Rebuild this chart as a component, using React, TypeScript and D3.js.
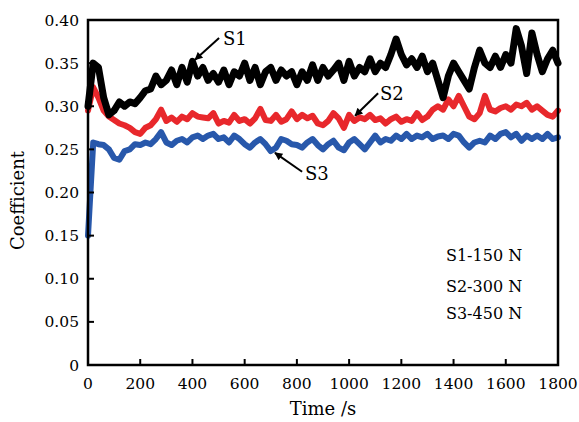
import React from 'react';
import * as d3 from 'd3';

// sampling times (s), one reading every 20 s
const times: number[] = d3.range(0, 1801, 20);

// S1 - 150 N
const s1: number[] = [
  0.300, 0.350, 0.345, 0.310, 0.290, 0.295, 0.305, 0.300, 0.305, 0.303,
  0.310, 0.318, 0.320, 0.335, 0.325, 0.330, 0.342, 0.325, 0.345, 0.328,
  0.352, 0.335, 0.345, 0.330, 0.338, 0.328, 0.342, 0.325, 0.340, 0.335,
  0.350, 0.330, 0.345, 0.325, 0.340, 0.345, 0.330, 0.342, 0.335, 0.340,
  0.325, 0.340, 0.330, 0.348, 0.330, 0.345, 0.335, 0.342, 0.350, 0.330,
  0.352, 0.335, 0.345, 0.340, 0.355, 0.340, 0.350, 0.345, 0.360, 0.378,
  0.360, 0.348, 0.355, 0.345, 0.358, 0.340, 0.350, 0.330, 0.310, 0.335,
  0.350, 0.340, 0.330, 0.320, 0.345, 0.365, 0.350, 0.345, 0.358, 0.345,
  0.360, 0.350, 0.390, 0.370, 0.338, 0.385, 0.360, 0.340, 0.355, 0.365,
  0.350,
];

// S2 - 300 N
const s2: number[] = [
  0.295, 0.322, 0.310, 0.295, 0.288, 0.284, 0.280, 0.278, 0.275, 0.270,
  0.268, 0.275, 0.278, 0.285, 0.296, 0.283, 0.287, 0.282, 0.288, 0.285,
  0.292, 0.288, 0.287, 0.286, 0.292, 0.280, 0.283, 0.281, 0.290, 0.283,
  0.285, 0.280, 0.286, 0.297, 0.284, 0.283, 0.290, 0.282, 0.285, 0.294,
  0.285, 0.290, 0.286, 0.289, 0.280, 0.278, 0.283, 0.292, 0.286, 0.275,
  0.290, 0.283, 0.287, 0.285, 0.290, 0.284, 0.286, 0.280, 0.285, 0.288,
  0.282, 0.285, 0.283, 0.292, 0.284, 0.288, 0.296, 0.300, 0.296, 0.308,
  0.300, 0.312, 0.300, 0.288, 0.285, 0.292, 0.312, 0.296, 0.294, 0.298,
  0.300, 0.296, 0.302, 0.300, 0.304, 0.296, 0.300, 0.295, 0.290, 0.288,
  0.295,
];

// S3 - 450 N
const s3: number[] = [
  0.150, 0.258, 0.256, 0.255, 0.250, 0.240, 0.238, 0.248, 0.250, 0.256,
  0.255, 0.258, 0.256, 0.262, 0.270, 0.258, 0.255, 0.260, 0.262, 0.258,
  0.264, 0.266, 0.262, 0.266, 0.268, 0.262, 0.264, 0.258, 0.266, 0.262,
  0.256, 0.252, 0.258, 0.262, 0.256, 0.248, 0.252, 0.262, 0.260, 0.256,
  0.255, 0.252, 0.258, 0.262, 0.255, 0.250, 0.256, 0.260, 0.252, 0.249,
  0.258, 0.262, 0.256, 0.250, 0.258, 0.266, 0.258, 0.262, 0.260, 0.266,
  0.262, 0.268, 0.262, 0.266, 0.264, 0.268, 0.262, 0.265, 0.266, 0.262,
  0.268, 0.266, 0.258, 0.252, 0.258, 0.260, 0.258, 0.266, 0.262, 0.268,
  0.270, 0.264, 0.268, 0.260, 0.266, 0.262, 0.266, 0.262, 0.268, 0.262,
  0.264,
];

const xTicks = [0, 200, 400, 600, 800, 1000, 1200, 1400, 1600, 1800];
const yTicks = [0, 0.05, 0.1, 0.15, 0.2, 0.25, 0.3, 0.35, 0.4];
const legendLines = ['S1-150 N', 'S2-300 N', 'S3-450 N'];

const width = 579;
const height = 422;
const margin = { top: 20, right: 21, bottom: 57, left: 88 };
const font = "'DejaVu Serif', 'Liberation Serif', serif";

const App = () => {
  const x = d3.scaleLinear().domain([0, 1800]).range([margin.left, width - margin.right]);
  const y = d3.scaleLinear().domain([0, 0.4]).range([height - margin.bottom, margin.top]);

  const line = d3.line<number>()
    .x((d, i) => x(times[i]))
    .y(d => y(d));

  const series = [
    { name: 'S3', values: s3, color: '#2858ab', w: 6 },
    { name: 'S2', values: s2, color: '#e8282c', w: 6 },
    { name: 'S1', values: s1, color: '#000000', w: 7 },
  ];

  // annotation arrows, in data units: label anchor, arrow tail, arrow head
  const notes = [
    { label: 'S1', tx: 517, ty: 0.371, from: [502, 0.379], to: [410, 0.354] },
    { label: 'S2', tx: 1118, ty: 0.307, from: [1111, 0.315], to: [1023, 0.289] },
    { label: 'S3', tx: 831, ty: 0.2145, from: [820, 0.224], to: [716, 0.246] },
  ];

  const x0 = x(0), x1 = x(1800), yb = y(0), yt = y(0.4);

  return (
    <svg width={width} height={height} style={{ position: 'absolute', left: 0, top: 0, background: '#fff' }}
      fontFamily={font}>
      <defs>
        <marker id="ah" viewBox="0 0 10 10" refX="9" refY="5" markerWidth="11" markerHeight="8"
          markerUnits="userSpaceOnUse" orient="auto">
          <path d="M0,0 L10,5 L0,10 z" fill="#000" />
        </marker>
      </defs>

      {series.map(s => (
        <path key={s.name} d={line(s.values) || ''} fill="none" stroke={s.color}
          strokeWidth={s.w} strokeLinejoin="round" strokeLinecap="round" />
      ))}

      {/* frame */}
      <rect x={x0} y={yt} width={x1 - x0} height={yb - yt} fill="none" stroke="#000" strokeWidth={2.5} />

      {/* y ticks */}
      {yTicks.map(t => (
        <g key={'y' + t}>
          {t > 0 && t < 0.4 && <line x1={x0} x2={x0 + 6} y1={y(t)} y2={y(t)} stroke="#000" strokeWidth={2} />}
          <text x={x0 - 9} y={y(t)} dy="0.36em" textAnchor="end" fontSize={15.5}>
            {t === 0 ? '0' : t.toFixed(2)}
          </text>
        </g>
      ))}

      {/* x ticks */}
      {xTicks.map(t => (
        <g key={'x' + t}>
          {t > 0 && t < 1800 && <line x1={x(t)} x2={x(t)} y1={yb} y2={yb - 6} stroke="#000" strokeWidth={2} />}
          <text x={x(t)} y={yb + 24} textAnchor="middle" fontSize={15.5}>{t}</text>
        </g>
      ))}

      <text x={(x0 + x1) / 2} y={yb + 50} textAnchor="middle" fontSize={18}>Time /s</text>
      <text transform={`translate(${24},${(yt + yb) / 2 + 8}) rotate(-90)`} textAnchor="middle" fontSize={18}>
        Coefficient
      </text>

      {notes.map(n => (
        <g key={n.label}>
          <line x1={x(n.from[0])} y1={y(n.from[1])} x2={x(n.to[0])} y2={y(n.to[1])}
            stroke="#000" strokeWidth={2} markerEnd="url(#ah)" />
          <text x={x(n.tx)} y={y(n.ty)} fontSize={18}>{n.label}</text>
        </g>
      ))}

      {legendLines.map((l, i) => (
        <text key={l} x={x(1371)} y={y([0.1206, 0.0846, 0.0533][i])} fontSize={16}>{l}</text>
      ))}
    </svg>
  );
};

export default App;
